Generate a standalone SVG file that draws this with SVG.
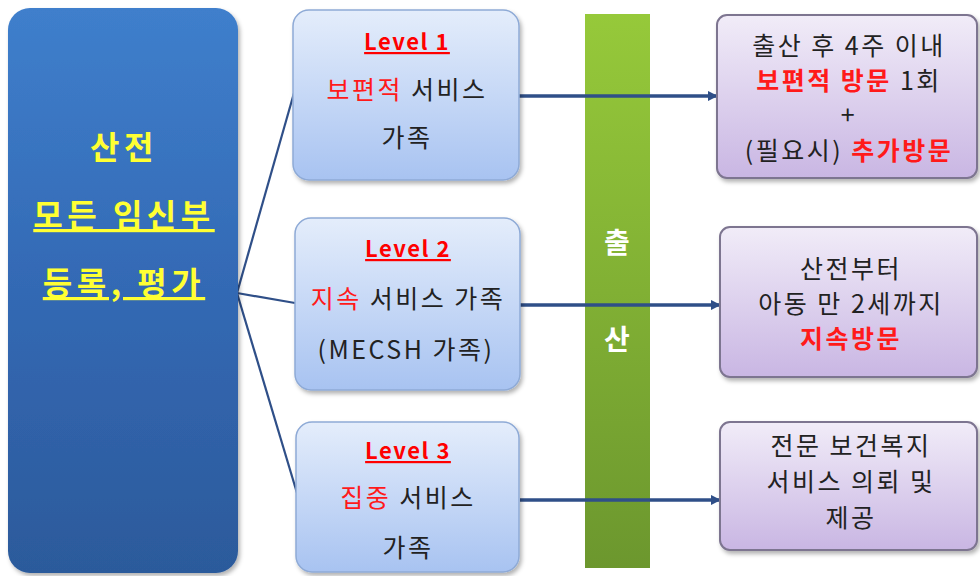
<svg xmlns="http://www.w3.org/2000/svg" width="980" height="576" viewBox="0 0 980 576">
  <defs>
    <linearGradient id="gBlue" x1="0" y1="0" x2="0" y2="1">
      <stop offset="0" stop-color="#3f7fcc"/>
      <stop offset="0.5" stop-color="#3369b4"/>
      <stop offset="1" stop-color="#2c5a9b"/>
    </linearGradient>
    <linearGradient id="gLevel" x1="0" y1="0" x2="0" y2="1">
      <stop offset="0" stop-color="#e4edfb"/>
      <stop offset="1" stop-color="#a8c3f1"/>
    </linearGradient>
    <linearGradient id="gVisit" x1="0" y1="0" x2="0" y2="1">
      <stop offset="0" stop-color="#f1ecf8"/>
      <stop offset="1" stop-color="#c9b6e3"/>
    </linearGradient>
    <linearGradient id="gBar" x1="0" y1="0" x2="0" y2="1">
      <stop offset="0" stop-color="#96c93a"/>
      <stop offset="1" stop-color="#6c972e"/>
    </linearGradient>
    <filter id="shadow" x="-10%" y="-10%" width="125%" height="125%">
      <feDropShadow dx="2" dy="3" stdDeviation="2" flood-color="#000" flood-opacity="0.3"/>
    </filter>
    <marker id="arrow" viewBox="0 0 10 10" refX="9" refY="5" markerWidth="3" markerHeight="3" orient="auto">
      <path d="M0,0 L10,5 L0,10 z" fill="#2f4f88"/>
    </marker>
  </defs>
  <style>
    text { font-family: "Malgun Gothic", "Noto Sans CJK KR", "Noto Sans", sans-serif; text-anchor: middle; }
    .main { fill: #ffff33; font-size: 32px; font-weight: bold; letter-spacing: 4.5px; }
    .lvl { fill: #ff0000; font-size: 22px; font-weight: bold; text-decoration: underline; letter-spacing: 1.5px; }
    .body { fill: #222; font-size: 25px; letter-spacing: 2.5px; }
    .red { fill: #ff1a1a; }
    .redb { fill: #ff1a1a; font-weight: bold; }
    .bar { fill: #ffffff; font-size: 28px; font-weight: bold; }
    .levelbox { fill: url(#gLevel); stroke: #8eaad6; stroke-width: 1.5; }
    .visitbox { fill: url(#gVisit); stroke: #7d7490; stroke-width: 2; }
    .conn { stroke: #2f4f88; stroke-width: 2.2; fill: none; }
    .arr { stroke: #2f4f88; stroke-width: 3.5; fill: none; marker-end: url(#arrow); }
  </style>

  <rect width="980" height="576" fill="#ffffff"/>

  <!-- birth divider (drawn first so the arrows cross over it) -->
  <g id="birth">
    <rect x="585" y="14" width="65" height="554" fill="url(#gBar)"/>
    <text class="bar" x="617" y="253">출</text>
    <text class="bar" x="617" y="350">산</text>
  </g>

  <!-- connectors -->
  <g id="connectors">
    <line class="conn" x1="237" y1="293" x2="294" y2="93"/>
    <line class="conn" x1="237" y1="293" x2="295" y2="303"/>
    <line class="conn" x1="237" y1="293" x2="297" y2="493"/>
    <line class="arr" x1="519" y1="96" x2="717" y2="96"/>
    <line class="arr" x1="520" y1="305" x2="720" y2="305"/>
    <line class="arr" x1="520" y1="500" x2="720" y2="500"/>
  </g>

  <!-- prenatal registration -->
  <g id="prenatal">
    <rect x="8" y="8" width="230" height="565" rx="22" fill="url(#gBlue)" filter="url(#shadow)"/>
    <text class="main" x="124" y="159">산전</text>
    <text class="main" x="124" y="227" text-decoration="underline">모든 임신부</text>
    <text class="main" x="124" y="295" text-decoration="underline">등록, 평가</text>
  </g>

  <!-- level 1 -->
  <g id="level1">
    <rect class="levelbox" x="293" y="10" width="226" height="170" rx="16" filter="url(#shadow)"/>
    <text class="lvl" x="407" y="50">Level  1</text>
    <text class="body" x="407" y="99"><tspan class="red">보편적</tspan> 서비스</text>
    <text class="body" x="407" y="147">가족</text>
  </g>

  <!-- level 2 -->
  <g id="level2">
    <rect class="levelbox" x="295" y="218" width="225" height="172" rx="16" filter="url(#shadow)"/>
    <text class="lvl" x="408" y="257">Level  2</text>
    <text class="body" x="408" y="308"><tspan class="red">지속</tspan> 서비스 가족</text>
    <text class="body" x="406" y="359">(MECSH 가족)</text>
  </g>

  <!-- level 3 -->
  <g id="level3">
    <rect class="levelbox" x="296" y="422" width="223" height="150" rx="16" filter="url(#shadow)"/>
    <text class="lvl" x="408" y="459">Level  3</text>
    <text class="body" x="408" y="507"><tspan class="red">집중</tspan> 서비스</text>
    <text class="body" x="408" y="557">가족</text>
  </g>

  <!-- visit 1 -->
  <g id="visit1">
    <rect class="visitbox" x="717" y="15" width="260" height="163" rx="10" filter="url(#shadow)"/>
    <text class="body" x="849" y="55">출산 후 4주 이내</text>
    <text class="body" x="849" y="90"><tspan class="redb">보편적 방문</tspan> 1회</text>
    <text class="body" x="849" y="124" font-size="19">+</text>
    <text class="body" x="849" y="160">(필요시) <tspan class="redb">추가방문</tspan></text>
  </g>

  <!-- visit 2 -->
  <g id="visit2">
    <rect class="visitbox" x="720" y="227" width="257" height="150" rx="10" filter="url(#shadow)"/>
    <text class="body" x="851" y="278">산전부터</text>
    <text class="body" x="851" y="313">아동 만 2세까지</text>
    <text class="body redb" x="851" y="348">지속방문</text>
  </g>

  <!-- visit 3 -->
  <g id="visit3">
    <rect class="visitbox" x="720" y="422" width="257" height="128" rx="10" filter="url(#shadow)"/>
    <text class="body" x="851" y="455">전문 보건복지</text>
    <text class="body" x="851" y="491">서비스 의뢰 및</text>
    <text class="body" x="851" y="527">제공</text>
  </g>
</svg>
